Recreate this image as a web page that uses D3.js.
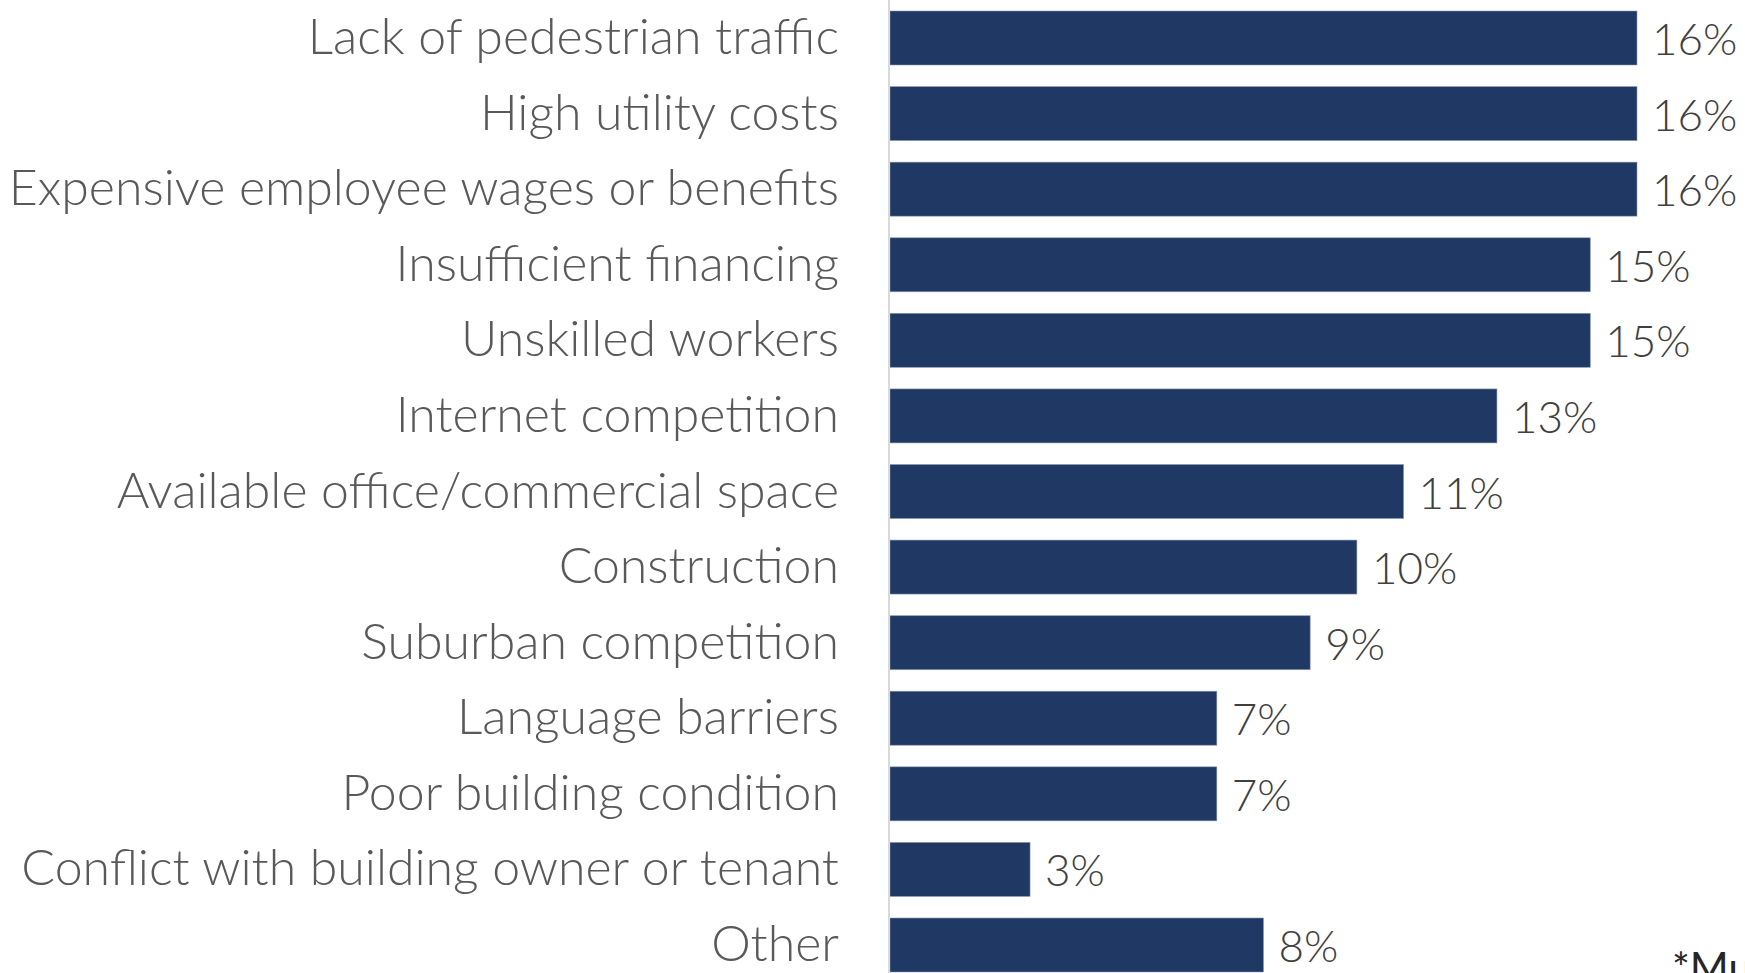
<!DOCTYPE html>
<html>
<head>
<meta charset="utf-8">
<script src="https://cdn.jsdelivr.net/npm/d3@7"></script>
<style>
  html, body { margin: 0; padding: 0; background: #fff; overflow: hidden; }
  svg { display: block; font-family: "Lato", "Carlito", "Open Sans", sans-serif; font-weight: 300; }
</style>
</head>
<body>
<svg id="chart" width="1745" height="973"></svg>
<script>
// categories top to bottom, share of respondents (%)
var categories = [
    "Lack of pedestrian traffic",
    "High utility costs",
    "Expensive employee wages or benefits",
    "Insufficient financing",
    "Unskilled workers",
    "Internet competition",
    "Available office/commercial space",
    "Construction",
    "Suburban competition",
    "Language barriers",
    "Poor building condition",
    "Conflict with building owner or tenant",
    "Other"
]
var values = [16, 16, 16, 15, 15, 13, 11, 10, 9, 7, 7, 3, 8]
var footnote = "*Multiple responses allowed"

var rows = categories.map((c, i) => ({"cat": c, "v": values[i]}))

const svg = d3.select("#chart")

var x = d3.scaleLinear().domain([0, 16]).range([890, 1637])
var y = d3.scaleBand().domain(categories).range([11, 972]).paddingInner(0.2855).paddingOuter(0)

// bars
svg.selectAll("rect.bar")
    .data(rows)
    .join("rect")
    .attr("class", "bar")
    .attr("x", x(0))
    .attr("y", d => y(d.cat))
    .attr("width", d => x(d.v) - x(0))
    .attr("height", y.bandwidth())
    .attr("fill", "#203864")
    .attr("stroke", "#8a9bb5")
    .attr("stroke-width", 0.8)
    .attr("stroke-opacity", 0.7)

// vertical axis line
svg.append("line")
    .attr("x1", 889).attr("x2", 889)
    .attr("y1", 0).attr("y2", 973)
    .attr("stroke", "#d9d9d9")
    .attr("stroke-width", 2)

// category labels
svg.selectAll("text.cat")
    .data(rows)
    .join("text")
    .attr("class", "cat")
    .attr("x", 839)
    .attr("y", d => y(d.cat) + y.bandwidth() / 2 + 16)
    .attr("text-anchor", "end")
    .attr("font-size", 50)
    .attr("fill", "#595959")
    .text(d => d.cat)

// value labels
svg.selectAll("text.val")
    .data(rows)
    .join("text")
    .attr("class", "val")
    .attr("x", d => x(d.v) + 15)
    .attr("y", d => y(d.cat) + y.bandwidth() / 2 + 17)
    .attr("font-size", 44)
    .attr("fill", "#404040")
    .text(d => d.v + "%")

// footnote, partly outside the frame as in the original
svg.append("text")
    .attr("x", 1672)
    .attr("y", 983)
    .attr("font-size", 42)
    .attr("font-weight", 400)
    .attr("fill", "#262626")
    .text(footnote)
</script>
</body>
</html>
